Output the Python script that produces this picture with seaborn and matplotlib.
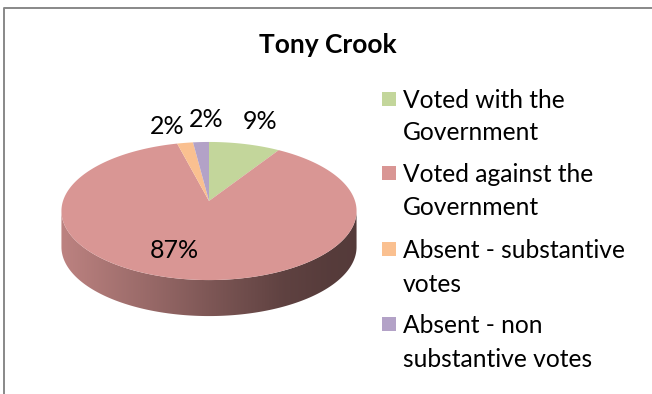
import numpy as np
import matplotlib
matplotlib.use("Agg")
import matplotlib.pyplot as plt
from matplotlib.patches import Polygon, Rectangle
from matplotlib.colors import to_rgb
import seaborn as sns

# ---- data ----
title = "Tony Crook"
legend_lines = [
    ["Voted with the", "Government"],
    ["Voted against the", "Government"],
    ["Absent - substantive", "votes"],
    ["Absent - non", "substantive votes"],
]
shares = [9, 87, 2, 2]
pct_labels = ["9%", "87%", "2%", "2%"]
slice_colors = ["#C3D69B", "#D99694", "#FAC090", "#B3A2C7"]

sns.set_theme(style="white")
palette = sns.color_palette(slice_colors)
plt.rcParams["font.family"] = ["Lato", "DejaVu Sans"]

W, H = 652, 394
fig = plt.figure(figsize=(W / 100, H / 100), dpi=100)
ax = fig.add_axes([0, 0, 1, 1])
ax.set_xlim(0, W)
ax.set_ylim(H, 0)
ax.axis("off")

# chart-area frame (only left and top edges fall inside the canvas)
ax.plot([3.5, 3.5, W], [H, 7.5, 7.5], color="#888888", lw=1.4,
        solid_capstyle="butt", zorder=1)

# ---- 3-D pie geometry (canvas pixel units) ----
cx, cy = 209.0, 201.0      # apex of the wedges
rx, ry = 146.0, 67.6       # projected radii
persp = 0.145              # perspective strength
depth = 36.0               # thickness of the disc


def project(theta, dy=0.0):
    """Clockwise angle from the far point -> projected canvas coordinates."""
    u, v = np.sin(theta), np.cos(theta)
    w = 1 + persp * v
    return cx + rx * u / w, cy - ry * v / w + dy


tt = np.linspace(0, 2 * np.pi, 3601)
xx, _ = project(tt)
th_r = tt[np.argmax(xx)]
th_l = tt[np.argmin(xx)]
x_min, x_max = xx.min(), xx.max()

frac = np.asarray(shares, dtype=float) / np.sum(shares)
edges = np.concatenate([[0.0], np.cumsum(frac)]) * 2 * np.pi

# horizontal shading of the visible rim
stops_pos = [0.0, 0.3, 0.5, 0.75, 0.9, 1.0]
stops_val = [0.87, 0.70, 0.58, 0.44, 0.40, 0.39]
gx = np.linspace(0, 1, 400)
shade = np.interp(gx, stops_pos, stops_val)

for i, col in enumerate(palette):
    a = max(edges[i], th_r)
    b = min(edges[i + 1], th_l)
    if a >= b:
        continue
    arc = np.linspace(a, b, 300)
    tx, ty = project(arc)
    bx, by = project(arc, depth)
    pts = np.column_stack([np.concatenate([tx, bx[::-1]]),
                           np.concatenate([ty, by[::-1]])])
    poly = Polygon(pts, closed=True, facecolor="none", edgecolor="none")
    ax.add_patch(poly)
    rgb = np.array(to_rgb(col))
    img = (shade[:, None] * rgb[None, :])[None, :, :]
    im = ax.imshow(img, extent=(x_min, x_max, by.max() + 1, ty.min() - 1),
                   aspect="auto", interpolation="bilinear", zorder=2)
    im.set_clip_path(poly)

# top face
for i, col in enumerate(palette):
    arc = np.linspace(edges[i], edges[i + 1], 300)
    px, py = project(arc)
    ax.fill(np.concatenate([[cx], px]), np.concatenate([[cy], py]),
            color=col, lw=0, zorder=3)

ax.set_xlim(0, W)
ax.set_ylim(H, 0)

# ---- value labels ----
label_pos = [(260, 129), (174, 258), (167, 134), (206, 127)]
for txt, (lx, ly) in zip(pct_labels, label_pos):
    ax.text(lx, ly, txt, ha="center", va="baseline", fontsize=18,
            color="black", zorder=5)

# ---- title ----
ax.text(328, 53, title, ha="center", va="baseline", fontsize=19,
        fontweight="bold", color="black", zorder=5)

# ---- legend ----
baselines = [(108, 140), (182, 215), (258, 292), (333, 367)]
for col, lines, (b1, b2) in zip(palette, legend_lines, baselines):
    ax.add_patch(Rectangle((382, b1 - 16), 14, 14, facecolor=col,
                           edgecolor="none", zorder=5))
    ax.text(403, b1, lines[0], ha="left", va="baseline", fontsize=17.7,
            color="black", zorder=5)
    ax.text(403, b2, lines[1], ha="left", va="baseline", fontsize=17.7,
            color="black", zorder=5)

fig.savefig("out.png", dpi=100)
